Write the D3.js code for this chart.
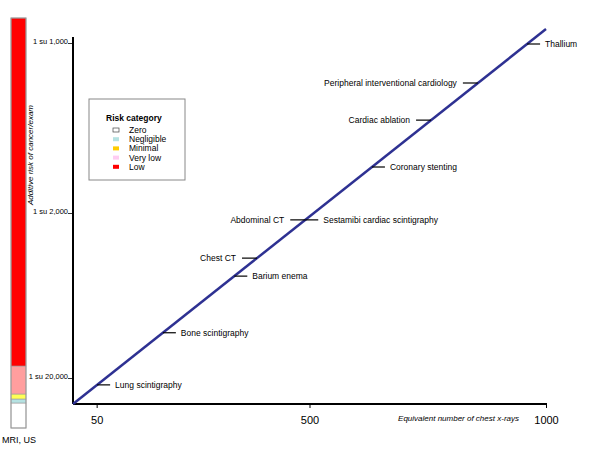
<!DOCTYPE html>
<html>
<head>
<meta charset="utf-8">
<script src="https://cdn.jsdelivr.net/npm/d3@7"></script>
<style>
  body { margin: 0; background: #fff; }
  text { font-family: "Liberation Sans", Arial, sans-serif; }
</style>
</head>
<body>
<svg id="chart" width="600" height="450"></svg>
<script>
// x ticks (equivalent number of chest x-rays)
const xTicks = [50, 500, 1000]
// risk ticks, paired with the x-ray value they sit at
const riskLabels = ["1 su 20,000", "1 su 2,000", "1 su 1,000"]
const riskRisk = [1 / 20000, 1 / 2000, 1 / 1000]

// procedures: name, chest x-ray equivalents, label side
const procNames = ["Lung scintigraphy", "Bone scintigraphy", "Barium enema", "Chest CT",
  "Abdominal CT", "Sestamibi cardiac scintigraphy", "Coronary stenting", "Cardiac ablation",
  "Peripheral interventional cardiology", "Thallium"]
const procValues = [51, 190, 341, 389, 491, 491, 632, 757, 856, 960]
const procSide = ["right", "right", "right", "left", "left", "right", "right", "left", "left", "right"]

// risk category legend + stacked bar
const riskCats = ["Zero", "Negligible", "Minimal", "Very low", "Low"]
const legendColors = ["#ffffff", "#b5e2e2", "#ffcc00", "#ffccf2", "#ff0000"]
const barColors = ["#ffffff", "#b5e2e2", "#ffff55", "#ff9e9e", "#ff0000"]
const barTops = [25, 29, 34, 62, 410]   // cumulative extent in bar units

const svg = d3.select("#chart")

// scales
const x = d3.scaleLinear().domain([0, 1000]).range([73, 546])
const y = d3.scaleLinear().domain([0, 1000]).range([404, 29])
const yRisk = d3.scaleLinear().domain([0, ...riskRisk]).range([404, 378, 213, 43])
const yBar = d3.scaleLinear().domain([0, 410]).range([428, 18])

// risk bar on the left
const barData = barTops.map((t, i) => ({lo: i ? barTops[i - 1] : 0, hi: t, c: barColors[i]}))
svg.append("g").selectAll("rect")
  .data(barData)
  .enter()
  .append("rect")
  .attr("x", 11)
  .attr("width", 15)
  .attr("y", d => yBar(d.hi))
  .attr("height", d => yBar(d.lo) - yBar(d.hi))
  .attr("fill", d => d.c)
  .attr("stroke", "#999")
  .attr("stroke-width", 0.6)
svg.append("rect")
  .attr("x", 11).attr("y", yBar(410)).attr("width", 15)
  .attr("height", yBar(0) - yBar(410))
  .attr("fill", "none").attr("stroke", "#999").attr("stroke-width", 1)
svg.append("text")
  .attr("x", 19).attr("y", 443)
  .attr("text-anchor", "middle")
  .style("font-size", "9px")
  .text("MRI, US")

// y axis title
svg.append("text")
  .attr("transform", "translate(33, 155) rotate(-90)")
  .attr("text-anchor", "middle")
  .style("font-size", "8px")
  .style("font-style", "italic")
  .text("Additive risk of cancer/exam")

// axes
const axisY = svg.append("g")
  .attr("transform", "translate(73,0)")
  .call(d3.axisLeft(yRisk).tickValues(riskRisk).tickSize(5).tickFormat((d, i) => riskLabels[i]))
axisY.select(".domain").remove()
axisY.selectAll("text").style("font-size", "7.5px").attr("dy", "0.1em").attr("x", -5)
axisY.selectAll("line").attr("stroke-width", 0.8)
svg.append("line")
  .attr("x1", 73).attr("x2", 73).attr("y1", 37).attr("y2", 404)
  .attr("stroke", "#000").attr("stroke-width", 2)

const axisX = svg.append("g")
  .attr("transform", "translate(0,404)")
  .call(d3.axisBottom(x).tickValues(xTicks).tickSize(4).tickFormat(d3.format("d")))
axisX.select(".domain").remove()
axisX.selectAll("text").style("font-size", "11px").attr("y", 12)
svg.append("line")
  .attr("x1", 73).attr("x2", 547).attr("y1", 404).attr("y2", 404)
  .attr("stroke", "#000").attr("stroke-width", 2)

svg.append("text")
  .attr("x", 519).attr("y", 421)
  .attr("text-anchor", "end")
  .style("font-size", "8px")
  .style("font-style", "italic")
  .text("Equivalent number of chest x-rays")

// diagonal line
svg.append("path")
  .datum([0, 1000])
  .attr("fill", "none")
  .attr("stroke", "#2e3192")
  .attr("stroke-width", 2.5)
  .attr("d", d3.line().x(d => x(d)).y(d => y(d)))

// procedures: dash + label
const procs = procNames.map((n, i) => ({name: n, v: procValues[i], side: procSide[i]}))
const pg = svg.append("g").selectAll("g")
  .data(procs)
  .enter()
  .append("g")
pg.append("line")
  .attr("x1", d => d.side === "right" ? x(d.v) : x(d.v) - 15)
  .attr("x2", d => d.side === "right" ? x(d.v) + 13 : x(d.v))
  .attr("y1", d => y(d.v))
  .attr("y2", d => y(d.v))
  .attr("stroke", "#000")
  .attr("stroke-width", 1.2)
pg.append("text")
  .attr("x", d => d.side === "right" ? x(d.v) + 18 : x(d.v) - 21)
  .attr("y", d => y(d.v))
  .attr("dy", "0.35em")
  .attr("text-anchor", d => d.side === "right" ? "start" : "end")
  .style("font-size", "8.5px")
  .text(d => d.name)

// legend
const lg = svg.append("g")
lg.append("rect")
  .attr("x", 89).attr("y", 99).attr("width", 96).attr("height", 81)
  .attr("fill", "#fff").attr("stroke", "#888").attr("stroke-width", 1)
lg.append("text")
  .attr("x", 106).attr("y", 121)
  .style("font-size", "8.5px").style("font-weight", "bold")
  .text("Risk category")
const li = lg.selectAll("g.item")
  .data(riskCats)
  .enter()
  .append("g")
  .attr("transform", (d, i) => `translate(0, ${130 + i * 9.2})`)
li.append("rect")
  .attr("x", 113).attr("y", -2).attr("width", 6).attr("height", 4)
  .attr("fill", (d, i) => legendColors[i])
  .attr("stroke", (d, i) => i === 0 ? "#444" : "none")
  .attr("stroke-width", 0.7)
li.append("text")
  .attr("x", 129).attr("dy", "0.35em")
  .style("font-size", "8.5px")
  .text(d => d)
</script>
</body>
</html>
